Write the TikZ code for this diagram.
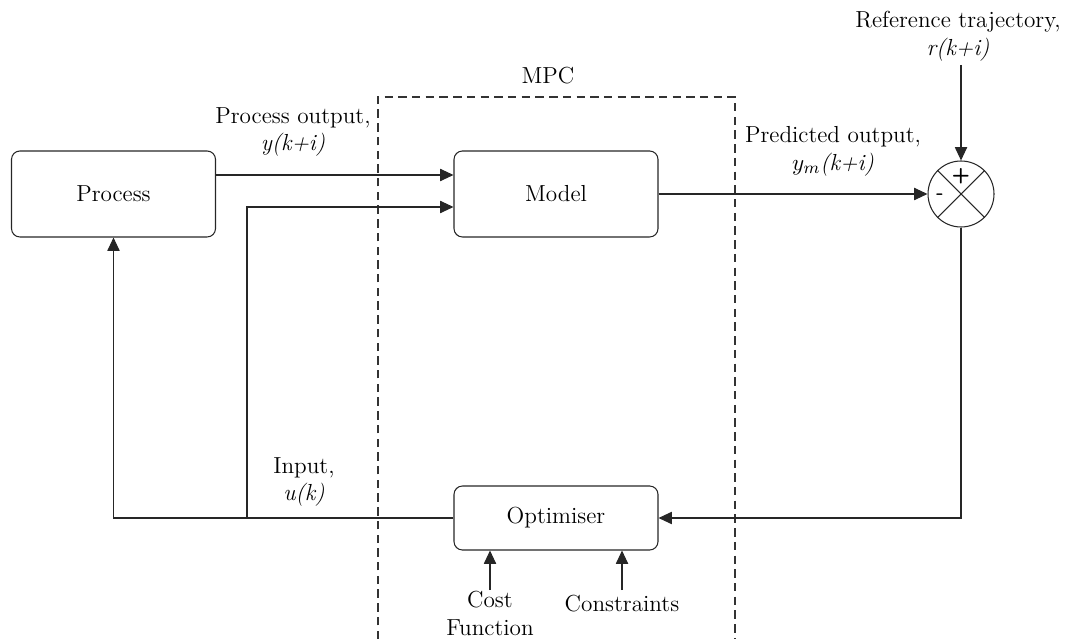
\documentclass[tikz,border=0pt]{standalone}
\usetikzlibrary{arrows.meta}
\begin{document}
\begin{tikzpicture}[x=0.474pt,y=-0.474pt,
  font=\fontsize{11}{13.2}\selectfont,
  blk/.style={draw=black!85, line width=0.5pt, rounded corners=4pt, minimum width=204*0.474pt, inner sep=0pt},
  conn/.style={draw=black!85, line width=0.5pt},
  arr/.style={conn, -{Triangle[length=6.3pt,width=5.8pt]}},
  lbl/.style={align=center, inner sep=0pt},
  sgn/.style={inner sep=0pt, font=\sffamily\bfseries\fontsize{10}{12}\selectfont}]
\useasboundingbox (0,0) rectangle (1070,639);
% MPC dashed box
\draw[draw=black!80, line width=0.5pt, dash pattern=on 4pt off 2.5pt] (378,639) -- (378,97) -- (735,97) -- (735,639);
\node[lbl] (mpc) at (548,76) {MPC};
% blocks
\node[blk, minimum height=86*0.474pt] (proc) at (113.5,194) {Process};
\node[blk, minimum height=86*0.474pt] (model) at (556,194) {Model};
\node[blk, minimum height=64*0.474pt] (opt) at (556,518) {Optimiser};
% summing junction
\node[draw=black!85, line width=0.5pt, circle, minimum size=66*0.474pt, inner sep=0pt] (sum) at (961,194) {};
\draw[conn] (sum.45) -- (sum.225);
\draw[conn] (sum.135) -- (sum.-45);
\node[sgn] (plus) at (961,176) {+};
\node[sgn] (minus) at (940,197) {-};
% coordinates
\coordinate (refend) at (961,65);
\coordinate (split) at (247,518);
\coordinate (cornerL) at (113.5,518);
\coordinate (cornerR) at (961,518);
\coordinate (costs) at (490,590);
\coordinate (cons) at (622,590);
% connectors
\draw[arr] (proc.east |- 0,175) -- (model.west |- 0,175);
\draw[arr] (split) -- (247,207) -- (model.west |- 0,207);
\draw[arr] (model.east) -- (sum.west);
\draw[arr] (refend) -- (sum.north);
\draw[arr] (sum.south) -- (cornerR) -- (opt.east);
\draw[arr] (opt.west) -- (cornerL) -- (proc.south);
\draw[arr] (costs) -- (costs |- opt.south);
\draw[arr] (cons) -- (cons |- opt.south);
% labels
\node[lbl] (lpo) at (293,132) {Process output,\\ \textit{y(k+i)}};
\node[lbl] (lpr) at (833,151) {Predicted output,\\ $y_m$\textit{(k+i)}};
\node[lbl] (lref) at (958,36) {Reference trajectory,\\ \textit{r(k+i)}};
\node[lbl] (lin) at (304,482) {Input,\\ \textit{u(k)}};
\node[lbl, anchor=north] (lcost) at (490,591) {Cost\\ Function};
\node[lbl, anchor=north] (lcons) at (622,595) {Constraints};
\end{tikzpicture}
\end{document}
